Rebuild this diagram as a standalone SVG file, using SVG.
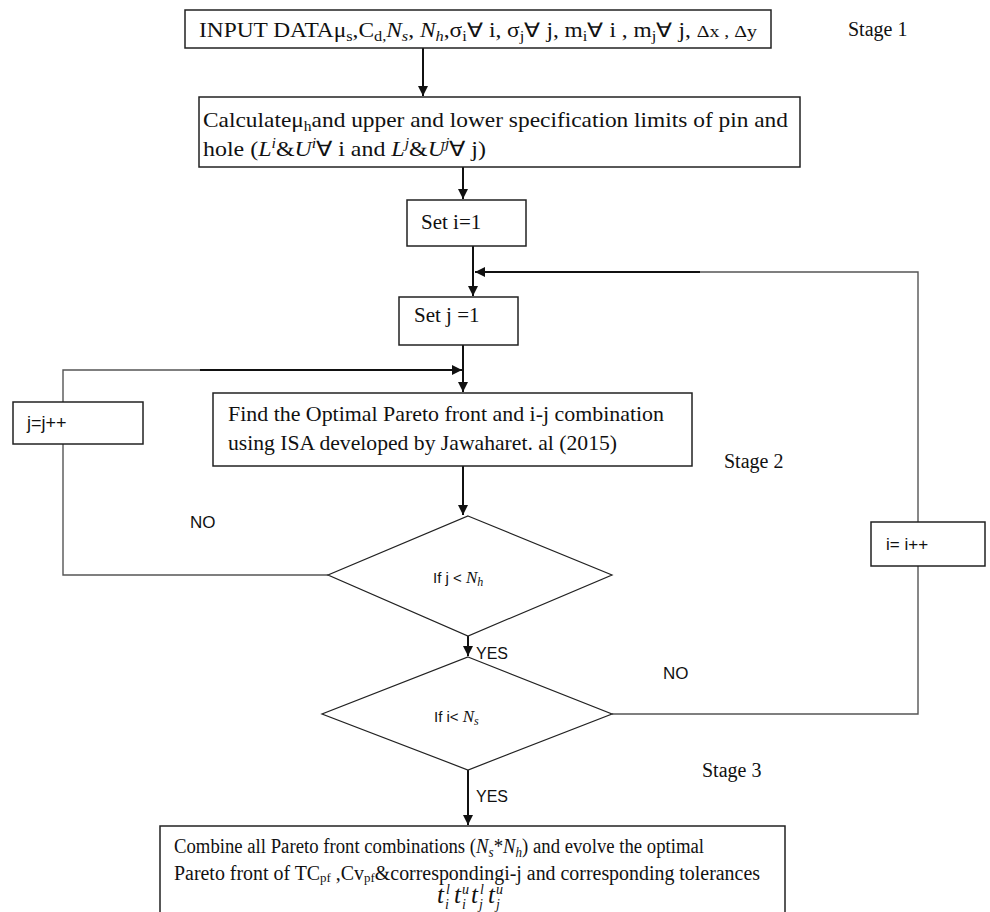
<svg xmlns="http://www.w3.org/2000/svg" width="990" height="912" viewBox="0 0 990 912">
<style>
.box{fill:#fff;stroke:#222;stroke-width:1.5}
.dia{fill:#fff;stroke:#222;stroke-width:1.2}
.ser{font-family:"Liberation Serif","Times New Roman",serif;fill:#111}
.san{font-family:"Liberation Sans",Arial,sans-serif;fill:#111}
.it{font-style:italic}
.main{stroke:#111;stroke-width:2;fill:none}
.thin{stroke:#555;stroke-width:1.4;fill:none}
</style>
<defs>
<marker id="ah" viewBox="0 0 10 10" refX="10" refY="5" markerWidth="10" markerHeight="11" markerUnits="userSpaceOnUse" orient="auto">
<path d="M0,0 L10,5 L0,10 z" fill="#111"/>
</marker>
</defs>
<rect width="990" height="912" fill="#fff"/>

<g id="connectors">
<line class="main" x1="423" y1="48" x2="423" y2="96" marker-end="url(#ah)"/>
<line class="main" x1="463" y1="167" x2="463" y2="199" marker-end="url(#ah)"/>
<line class="main" x1="473" y1="246" x2="473" y2="296" marker-end="url(#ah)"/>
<polyline class="thin" points="918,522 918,272 700,272"/>
<line class="main" x1="700" y1="272" x2="475" y2="272" marker-end="url(#ah)"/>
<line class="main" x1="463" y1="345" x2="463" y2="392" marker-end="url(#ah)"/>
<polyline class="thin" points="63,402 63,370 200,370"/>
<line class="main" x1="200" y1="370" x2="462" y2="370" marker-end="url(#ah)"/>
<line class="main" x1="463" y1="466" x2="463" y2="515" marker-end="url(#ah)"/>
<polyline class="thin" points="328,575 63,575 63,444"/>
<line class="main" x1="468" y1="636" x2="468" y2="656" marker-end="url(#ah)"/>
<polyline class="thin" points="612,714 918,714 918,566"/>
<line class="main" x1="468" y1="770" x2="468" y2="825" marker-end="url(#ah)"/>
</g>

<g id="input">
<rect class="box" x="185" y="10" width="586" height="38"/>
<text class="ser" x="199" y="37" font-size="20" textLength="558" lengthAdjust="spacingAndGlyphs">INPUT DATAμ<tspan font-size="14" dy="4">s</tspan><tspan dy="-4">,C</tspan><tspan font-size="14" dy="4">d,</tspan><tspan class="it" dy="-4">N</tspan><tspan class="it" font-size="14" dy="4">s</tspan><tspan dy="-4">, </tspan><tspan class="it">N</tspan><tspan class="it" font-size="14" dy="4">h</tspan><tspan dy="-4">,σ</tspan><tspan font-size="14" dy="4">i</tspan><tspan dy="-4">∀ i, σ</tspan><tspan font-size="14" dy="4">j</tspan><tspan dy="-4">∀ j, m</tspan><tspan font-size="14" dy="4">i</tspan><tspan dy="-4">∀ i , m</tspan><tspan font-size="14" dy="4">j</tspan><tspan dy="-4">∀ j, </tspan><tspan font-size="17">Δx , Δy</tspan></text>
</g>
<text class="ser" x="848" y="36" font-size="20">Stage 1</text>

<g id="calc">
<rect class="box" x="199" y="97" width="601" height="70"/>
<text class="ser" x="203" y="127" font-size="21" textLength="585" lengthAdjust="spacingAndGlyphs">Calculateμ<tspan font-size="14" dy="4">h</tspan><tspan dy="-4">and upper and lower specification limits of pin and</tspan></text>
<text class="ser" x="203" y="156" font-size="21" textLength="283" lengthAdjust="spacingAndGlyphs">hole (<tspan class="it">L</tspan><tspan class="it" font-size="14" dy="-8">i</tspan><tspan dy="8">&amp;</tspan><tspan class="it">U</tspan><tspan class="it" font-size="14" dy="-8">i</tspan><tspan dy="8">∀ i and </tspan><tspan class="it">L</tspan><tspan class="it" font-size="14" dy="-8">j</tspan><tspan dy="8">&amp;</tspan><tspan class="it">U</tspan><tspan class="it" font-size="14" dy="-8">j</tspan><tspan dy="8">∀ j)</tspan></text>
</g>

<g id="seti">
<rect class="box" x="407" y="200" width="119" height="46"/>
<text class="ser" x="421" y="229" font-size="21">Set i=1</text>
</g>

<g id="setj">
<rect class="box" x="399" y="297" width="119" height="48"/>
<text class="ser" x="414" y="322" font-size="21">Set j =1</text>
</g>

<g id="jinc">
<rect class="box" x="13" y="402" width="130" height="42"/>
<text class="san" x="27" y="429" font-size="18">j=j++</text>
</g>

<g id="find">
<rect class="box" x="213" y="393" width="479" height="73"/>
<text class="ser" x="228" y="421" font-size="21" textLength="436" lengthAdjust="spacingAndGlyphs">Find the Optimal Pareto front and  i-j combination</text>
<text class="ser" x="228" y="450" font-size="21" textLength="389" lengthAdjust="spacingAndGlyphs">using ISA developed by Jawaharet. al (2015)</text>
</g>
<text class="ser" x="724" y="468" font-size="20">Stage 2</text>

<text class="san" x="190" y="528" font-size="17">NO</text>

<g id="iinc">
<rect class="box" x="871" y="522" width="114" height="44"/>
<text class="san" x="886" y="550" font-size="17">i= i++</text>
</g>

<g id="decj">
<polygon class="dia" points="468,516 612,575 468,636 328,575"/>
<text class="san" x="433" y="583" font-size="15">If j &lt; <tspan class="ser it" font-size="17">N</tspan><tspan class="ser it" font-size="12" dy="3">h</tspan></text>
</g>
<text class="san" x="476" y="659" font-size="16">YES</text>
<text class="san" x="663" y="679" font-size="17">NO</text>

<g id="deci">
<polygon class="dia" points="468,657 612,714 468,770 322,714"/>
<text class="san" x="434" y="722" font-size="15">If i&lt; <tspan class="ser it" font-size="17">N</tspan><tspan class="ser it" font-size="12" dy="3">s</tspan></text>
</g>
<text class="san" x="476" y="802" font-size="16">YES</text>
<text class="ser" x="702" y="777" font-size="20">Stage 3</text>

<g id="combine">
<rect class="box" x="160" y="826" width="625" height="100"/>
<text class="ser" x="174" y="853" font-size="20" textLength="530" lengthAdjust="spacingAndGlyphs">Combine all Pareto front combinations (<tspan class="it">N</tspan><tspan class="it" font-size="14" dy="4">s</tspan><tspan dy="-4">*</tspan><tspan class="it">N</tspan><tspan class="it" font-size="14" dy="4">h</tspan><tspan dy="-4">) and evolve the optimal</tspan></text>
<text class="ser" x="174" y="880" font-size="20" textLength="586" lengthAdjust="spacingAndGlyphs">Pareto front of TC<tspan font-size="13" dy="2">pf</tspan><tspan dy="-2"> ,Cv</tspan><tspan font-size="13" dy="2">pf</tspan><tspan dy="-2">&amp;correspondingi-j  and corresponding tolerances</tspan></text>
<g class="ser it">
<text x="437" y="903" font-size="25">t</text><text x="445" y="909" font-size="14">i</text><text x="446" y="894" font-size="14">l</text>
<text x="454" y="903" font-size="25">t</text><text x="462" y="909" font-size="14">i</text><text x="462" y="894" font-size="14">u</text>
<text x="471" y="903" font-size="25">t</text><text x="479" y="909" font-size="14">j</text><text x="480" y="894" font-size="14">l</text>
<text x="488" y="903" font-size="25">t</text><text x="496" y="909" font-size="14">j</text><text x="496" y="894" font-size="14">u</text>
</g>
</g>
</svg>
